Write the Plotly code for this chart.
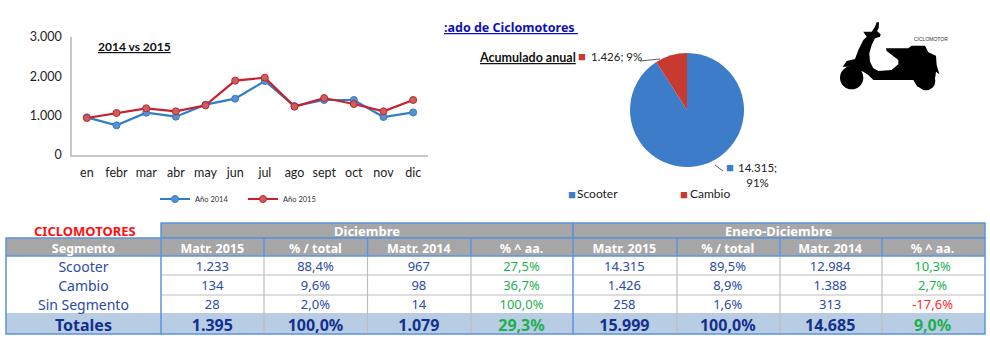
import plotly.graph_objects as go

W, H = 990, 357
months = ["en", "febr", "mar", "abr", "may", "jun", "jul", "ago", "sept", "oct", "nov", "dic"]
y2014 = [955, 752, 1073, 972, 1276, 1428, 1876, 1243, 1395, 1395, 964, 1079]
y2015 = [938, 1065, 1183, 1107, 1260, 1885, 1961, 1226, 1445, 1293, 1107, 1395]
y_ticks = [0, 1000, 2000, 3000]
y_tick_labels = ["0", "1.000", "2.000", "3.000"]
pie_labels = ["Scooter", "Cambio"]
pie_values = [14315, 1426]
pie_texts = ["14.315;<br>91%", "1.426; 9%"]

col_segmento = ["Scooter", "Cambio", "Sin Segmento", "Totales"]
headers = ["Segmento", "Matr. 2015", "% / total", "Matr. 2014", "% ^ aa.",
           "Matr. 2015", "% / total", "Matr. 2014", "% ^ aa."]
col_dic_2015 = ["1.233", "134", "28", "1.395"]
col_dic_pct = ["88,4%", "9,6%", "2,0%", "100,0%"]
col_dic_2014 = ["967", "98", "14", "1.079"]
col_dic_var = ["27,5%", "36,7%", "100,0%", "29,3%"]
col_acu_2015 = ["14.315", "1.426", "258", "15.999"]
col_acu_pct = ["89,5%", "8,9%", "1,6%", "100,0%"]
col_acu_2014 = ["12.984", "1.388", "313", "14.685"]
col_acu_var = ["10,3%", "2,7%", "-17,6%", "9,0%"]

BLUE, RED = "#2F7FC8", "#C8202E"
TXT, NAVY, GREEN, NEG = "#2B4AA8", "#12308F", "#1DB050", "#FF2A2A"
GREY, EDGE, TOTAL, RULE = "#A6A6A6", "#5B94DC", "#B8CCE4", "#BDBDBD"
BODY = "Lato"
TAB = "Noto Sans"
CLEAR = "rgba(0,0,0,0)"


def px(x):
    return x / W


def py(y):
    return 1 - y / H


fig = go.Figure()
fig.add_trace(go.Scatter(x=months, y=y2014, name="Año 2014", mode="lines+markers",
                         line=dict(color=BLUE, width=2.2),
                         marker=dict(color="#5B8FD0", size=7, line=dict(color=BLUE, width=1))))
fig.add_trace(go.Scatter(x=months, y=y2015, name="Año 2015", mode="lines+markers",
                         line=dict(color=RED, width=2.2),
                         marker=dict(color="#C8605E", size=7, line=dict(color=RED, width=1))))
fig.add_trace(go.Pie(labels=pie_labels, values=pie_values, sort=False, direction="clockwise",
                     rotation=0, textinfo="none", hole=0, showlegend=False,
                     marker=dict(colors=["#3D7CC9", "#C8392F"], line=dict(width=0)),
                     domain=dict(x=[px(630), px(744)], y=[py(167), py(53)])))

columns = [col_segmento, col_dic_2015, col_dic_pct, col_dic_2014, col_dic_var,
           col_acu_2015, col_acu_pct, col_acu_2014, col_acu_var]
edges = [6, 161, 264, 367.5, 471, 573, 677, 780, 882, 985]
widths = [b - a for a, b in zip(edges, edges[1:])]


def band(y0, row_h, values, colors, size, weight):
    """The text of one horizontal band of the table, as a table trace without header."""
    n = len(values[0])
    fig.add_trace(go.Table(
        domain=dict(x=[px(6), px(985)], y=[py(y0 + row_h * n + 10), py(y0)]),
        columnwidth=widths,
        header=dict(values=[""] * 9, height=0, fill_color=CLEAR,
                    line=dict(width=0, color=CLEAR), font=dict(size=1)),
        cells=dict(values=values, fill_color=CLEAR, align="center", height=row_h,
                   font=dict(color=colors, size=size, family=TAB, weight=weight),
                   line=dict(color=CLEAR, width=0))))


band(236, 18, [[h] for h in headers], "white", 12.5, "bold")
body_cols = [c[:3] for c in columns]
band(253, 19, body_cols,
     [[NEG if j in (4, 8) and v.startswith("-") else (GREEN if j in (4, 8) else TXT) for v in c]
      for j, c in enumerate(body_cols)],
     [14] + [13] * 8, "normal")
total_cols = [[c[3]] for c in columns]
band(311, 21, total_cols, [[GREEN if j in (4, 8) else NAVY] for j in range(9)], 16, "bold")

shapes = []


def rect(x0, y0, x1, y1, fill=None, line=None, lw=1.5, layer="above"):
    shapes.append(dict(type="rect", xref="paper", yref="paper", x0=px(x0), x1=px(x1),
                       y0=py(y0), y1=py(y1), fillcolor=fill or CLEAR,
                       line=dict(color=line or CLEAR, width=lw if line else 0), layer=layer))


def seg(x0, y0, x1, y1, color, width=1.0, layer="above"):
    shapes.append(dict(type="line", xref="paper", yref="paper", x0=px(x0), x1=px(x1),
                       y0=py(y0), y1=py(y1), line=dict(color=color, width=width), layer=layer))


# table bands and rules, below the table text
rect(161, 223, 573, 238, GREY, EDGE, layer="below")
rect(573, 223, 985, 238, GREY, EDGE, layer="below")
rect(6, 238, 985, 256, GREY, None, layer="below")
rect(6, 313, 985, 334, TOTAL, None, layer="below")
for yy in (275, 295):
    seg(161, yy, 985, yy, RULE, 1.2, "below")
for xx in edges[2:5] + edges[6:9]:
    seg(xx, 256, xx, 334, RULE, 1.2, "below")
    seg(xx, 238, xx, 256, EDGE, 1.5, "below")
seg(6, 256, 985, 256, EDGE, 1.5, "below")
rect(6, 238, 985, 334, None, EDGE, layer="below")
seg(161, 238, 161, 334, EDGE, 1.5, "below")
seg(573, 238, 573, 334, EDGE, 1.5, "below")
# callout lines of the pie
seg(640, 61, 660, 59, "#333333", 0.8)
seg(715, 165, 723, 171, "#333333", 0.8)


# scooter silhouette
def zx(x):
    return px(830 + x / 3)


def zy(y):
    return py(15 + y / 3)


body = [(140, 22), (147, 22), (146, 40), (141, 48), (152, 58), (150, 65), (135, 70), (125, 90), (118, 115),
        (120, 140), (130, 160), (145, 168), (185, 165), (205, 148), (205, 135), (170, 108), (168, 100),
        (235, 100), (245, 92), (285, 92), (295, 112), (318, 122), (320, 150), (328, 178), (318, 170),
        (316, 185), (300, 222), (262, 215), (250, 195), (130, 195), (115, 180), (100, 170), (60, 155), (38, 155),
        (50, 138), (75, 132), (85, 105), (100, 75), (110, 65), (100, 50), (125, 50), (135, 35)]
path = "M " + " L ".join(f"{zx(a)},{zy(b)}" for a, b in body) + " Z"
shapes.append(dict(type="path", xref="paper", yref="paper", path=path, fillcolor="black",
                   line=dict(width=0), layer="above"))
for cx, cy, r in [(65, 188, 35), (288, 198, 28)]:
    shapes.append(dict(type="circle", xref="paper", yref="paper", x0=zx(cx - r), x1=zx(cx + r),
                       y0=zy(cy + r), y1=zy(cy - r), fillcolor="black", line=dict(width=0), layer="above"))

ann = []


def text(x, y, s, size, color="black", family=BODY, anchor="center", align="left"):
    ann.append(dict(xref="paper", yref="paper", x=px(x), y=py(y), text=s, showarrow=False,
                    xanchor=anchor, yanchor="middle", font=dict(size=size, color=color, family=family),
                    align=align))


text(134, 47, "<b><u>2014 vs 2015</u></b>", 12, "#111111")
text(442, 28, "<b><u>:ado de Ciclomotores </u></b>", 12.5, "#1010B8", "Noto Sans", "left")
text(477, 58, "<b><u>Acumulado anual</u></b>", 12.5, "#111111", BODY, "left")
text(582, 56, "■", 13, "#C8392F")
text(589, 56, pie_texts[1], 11.5, "#222222", BODY, "left")
text(730, 167, "■", 13, "#3D7CC9")
text(736, 175, pie_texts[0], 11.5, "#222222", BODY, "left", "center")
text(572, 194, "■", 13, "#3D7CC9")
text(575, 194, pie_labels[0], 12, "#222222", BODY, "left")
text(684, 194, "■", 13, "#C8392F")
text(688, 194, pie_labels[1], 12, "#222222", BODY, "left")
text(85, 231, "<b>CICLOMOTORES</b>", 13, "#FF1010", TAB)
text(367, 230.5, "<b>Diciembre</b>", 13, "white", TAB)
text(779, 230.5, "<b>Enero-Diciembre</b>", 13, "white", TAB)
text(931, 39, "CICLOMOTOR", 5, "#333333", "Liberation Sans")

fig.update_layout(
    width=W, height=H, autosize=False, margin=dict(l=0, r=0, t=0, b=0, autoexpand=False),
    paper_bgcolor="white", plot_bgcolor="rgba(0,0,0,0)",
    xaxis=dict(domain=[px(72), px(428)], type="category", categoryorder="array", categoryarray=months,
               showgrid=False, zeroline=False, showline=True, linecolor="#C8C8C8", linewidth=1.5,
               ticks="", tickfont=dict(size=12.5, color="#222222", family=BODY), range=[-0.5, 11.5],
               anchor="y", ticklabelstandoff=5),
    yaxis=dict(domain=[py(155), py(36.7)], range=[0, 3000], tickvals=y_ticks, ticktext=y_tick_labels,
               showgrid=False, zeroline=False, showline=True, linecolor="#C8C8C8", linewidth=1.5,
               ticks="", tickfont=dict(size=12.5, color="#222222", family=BODY), anchor="x",
               ticklabelstandoff=6),
    legend=dict(orientation="h", x=px(155), y=py(199), xanchor="left", yanchor="middle",
                font=dict(size=7.5, color="#333333", family=BODY), entrywidth=43, entrywidthmode="pixels",
                bgcolor=CLEAR, itemwidth=30, tracegroupgap=0),
    shapes=shapes, annotations=ann, showlegend=True,
)
fig.write_html("out.html", config={"displayModeBar": False},
               post_script="document.body.style.margin='0';document.body.style.overflow='hidden';")
